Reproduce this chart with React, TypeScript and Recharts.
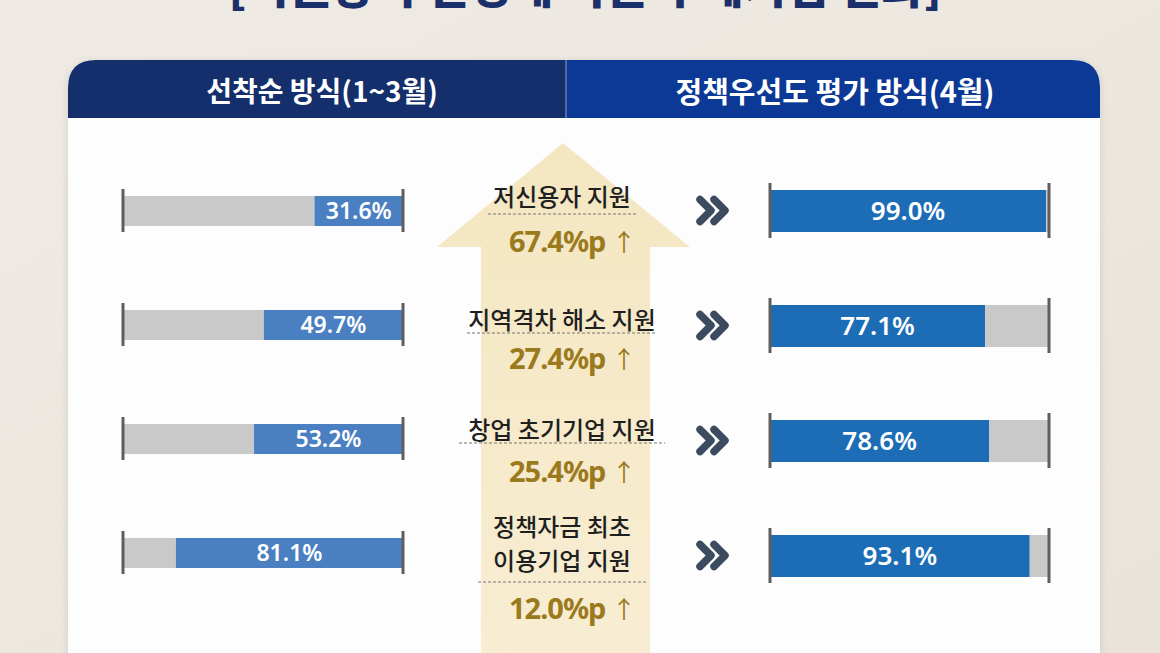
import React from "react";
import { BarChart, Bar, XAxis, YAxis, LabelList } from "recharts";

// ---- data ----
const categories = ["저신용자 지원", "지역격차 해소 지원", "창업 초기기업 지원", "정책자금 최초 이용기업 지원"];
const categoryLines = [["저신용자 지원"], ["지역격차 해소 지원"], ["창업 초기기업 지원"], ["정책자금 최초", "이용기업 지원"]];
const firstComeShare = [31.6, 49.7, 53.2, 81.1]; // 선착순 방식(1~3월)
const priorityShare = [99.0, 77.1, 78.6, 93.1]; // 정책우선도 평가 방식(4월)
const increasePoints = [67.4, 27.4, 25.4, 12.0];
const titleText = "[지원방식 변경에 따른 수혜기업 변화]";
const leftHeader = "선착순 방식(1~3월)";
const rightHeader = "정책우선도 평가 방식(4월)";

const leftData = categories.map((name, i) => ({ name, gray: 100 - firstComeShare[i], blue: firstComeShare[i] }));
const rightData = categories.map((name, i) => ({ name, blue: priorityShare[i], gray: 100 - priorityShare[i] }));

// ---- layout ----
const W = 1160;
const H = 653;
const LEFT = { left: 100, top: 154, width: 330, height: 456, margin: { top: 0, right: 27, bottom: 0, left: 23 } };
const RIGHT = { left: 750, top: 153, width: 320, height: 460, margin: { top: 0, right: 21, bottom: 0, left: 20 } };
const rightBand = RIGHT.height / categories.length;
const centerLayout = [
  { label: [195], dash: 214, value: 240 },
  { label: [318], dash: 333, value: 357 },
  { label: [428], dash: 443, value: 470 },
  { label: [525, 559], dash: 582, value: 607 },
];
const dashWidths = [148, 190, 206, 168];

const KR = "'Noto Sans CJK KR', 'Noto Sans', sans-serif";
const NUM = "'Noto Sans', 'Noto Sans CJK KR', sans-serif";
const GRAY = "#c9c9c9";
const TICK = "#5e5e5e";

const tickLine = (x: number, y: number, h: number, key: string) => (
  <line key={key} x1={x} x2={x} y1={y - 7} y2={y + h + 6} stroke={TICK} strokeWidth={3} />
);

const segShape = (fill: string, side: "start" | "end") => (props: any) => {
  const { x, y, width, height } = props;
  const x0 = Math.min(x, x + width);
  const w = Math.abs(width);
  return (
    <g>
      <rect x={x0} y={y} width={w} height={height} fill={fill} />
      {side === "start" ? tickLine(x0, y, height, "t") : tickLine(x0 + w, y, height, "t")}
    </g>
  );
};

const pct = (v: any) => `${Number(v).toFixed(1)}%`;

export default function App() {
  return (
    <div style={{ position: "absolute", left: 0, top: 0, width: W, height: H, overflow: "hidden", background: "#ede8e0" }}>
      <svg width={W} height={H} style={{ position: "absolute", left: 0, top: 0 }}>
        <defs>
          <linearGradient id="bg" x1="0" y1="0" x2="1" y2="1">
            <stop offset="0" stopColor="#efebe4" />
            <stop offset="1" stopColor="#e9e3da" />
          </linearGradient>
          <linearGradient id="arrow" x1="0" y1="0" x2="0" y2="1">
            <stop offset="0" stopColor="#f4e6c1" />
            <stop offset="1" stopColor="#f8eed4" />
          </linearGradient>
          <filter id="shadow" x="-5%" y="-5%" width="110%" height="120%">
            <feDropShadow dx="0" dy="2" stdDeviation="4" floodColor="#000" floodOpacity="0.12" />
          </filter>
        </defs>
        <rect x={0} y={0} width={W} height={H} fill="url(#bg)" />
        <text x={585} y={3} textAnchor="middle" fontFamily={KR} fontWeight={900} fontSize={46} fill="#1b2f6b">
          {titleText}
        </text>
        {/* card */}
        <path d="M68,690 L68,88 Q68,60 96,60 L1072,60 Q1100,60 1100,88 L1100,690 Z" fill="#fdfdfd" filter="url(#shadow)" />
        <path d="M68,118 L68,88 Q68,60 96,60 L566,60 L566,118 Z" fill="#142f6b" />
        <path d="M566,60 L1072,60 Q1100,60 1100,88 L1100,118 L566,118 Z" fill="#0c3995" />
        <line x1={566} x2={566} y1={60} y2={118} stroke="#8ea2cf" strokeWidth={1} />
        <text x={322} y={90} textAnchor="middle" dominantBaseline="central" fontFamily={KR} fontWeight={700} fontSize={28} fill="#ffffff">
          {leftHeader}
        </text>
        <text x={835} y={90} textAnchor="middle" dominantBaseline="central" fontFamily={KR} fontWeight={700} fontSize={29} fill="#ffffff">
          {rightHeader}
        </text>
        {/* big arrow */}
        <path d="M563,143 L690,247 L650,247 L650,700 L481,700 L481,247 L437,247 Z" fill="url(#arrow)" />
        {/* center labels */}
        {categories.map((c, i) => {
          const lay = centerLayout[i];
          return (
            <g key={c}>
              {categoryLines[i].map((ln, j) => (
                <text key={j} x={562} y={lay.label[j]} textAnchor="middle" dominantBaseline="central" fontFamily={KR} fontWeight={500} fontSize={24} fill="#1f1f1f">
                  {ln}
                </text>
              ))}
              <line x1={562 - dashWidths[i] / 2} x2={562 + dashWidths[i] / 2} y1={lay.dash} y2={lay.dash} stroke="#777" strokeWidth={1.2} strokeDasharray="3 2" />
              <text x={572} y={lay.value} textAnchor="middle" dominantBaseline="central" fontFamily={NUM} fontWeight={700} fontSize={29} fill="#9b7a1d" letterSpacing={-1}>
                {`${increasePoints[i].toFixed(1)}%p `}
                <tspan fontWeight={400} fontFamily={KR} fontSize={24}>↑</tspan>
              </text>
            </g>
          );
        })}
        {/* chevrons */}
        {categories.map((c, i) => {
          const cy = RIGHT.top + rightBand * (i + 0.5);
          return (
            <g key={c} stroke="#3d4b60" strokeWidth={7.5} strokeLinecap="round" strokeLinejoin="round" fill="none">
              <polyline points={`${700},${cy - 11} ${711},${cy} ${700},${cy + 11}`} />
              <polyline points={`${714},${cy - 11} ${725},${cy} ${714},${cy + 11}`} />
            </g>
          );
        })}
      </svg>

      <div style={{ position: "absolute", left: LEFT.left, top: LEFT.top }}>
        <BarChart width={LEFT.width} height={LEFT.height} data={leftData} layout="vertical" margin={LEFT.margin} barSize={30}>
          <XAxis type="number" domain={[0, 100]} hide />
          <YAxis type="category" dataKey="name" hide />
          <Bar dataKey="gray" stackId="s" fill={GRAY} isAnimationActive={false} shape={segShape(GRAY, "start")} />
          <Bar dataKey="blue" stackId="s" fill="#4a80c2" isAnimationActive={false} shape={segShape("#4a80c2", "end")}>
            <LabelList dataKey="blue" position="center" formatter={pct} fill="#ffffff" fontSize={23} fontWeight={600} fontFamily={NUM} />
          </Bar>
        </BarChart>
      </div>

      <div style={{ position: "absolute", left: RIGHT.left, top: RIGHT.top }}>
        <BarChart width={RIGHT.width} height={RIGHT.height} data={rightData} layout="vertical" margin={RIGHT.margin} barSize={42}>
          <XAxis type="number" domain={[0, 100]} hide />
          <YAxis type="category" dataKey="name" hide />
          <Bar dataKey="blue" stackId="s" fill="#1c6db6" isAnimationActive={false} shape={segShape("#1c6db6", "start")}>
            <LabelList dataKey="blue" position="center" formatter={pct} fill="#ffffff" fontSize={26} fontWeight={600} fontFamily={NUM} />
          </Bar>
          <Bar dataKey="gray" stackId="s" fill={GRAY} isAnimationActive={false} shape={segShape(GRAY, "end")} />
        </BarChart>
      </div>
    </div>
  );
}
